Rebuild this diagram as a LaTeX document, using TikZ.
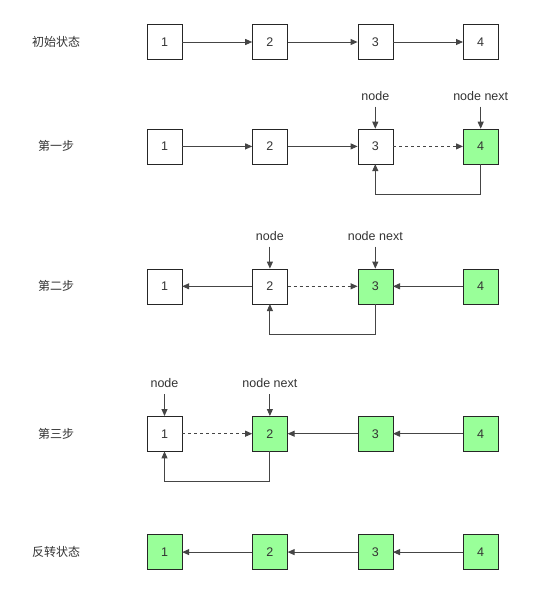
\documentclass[tikz,border=0pt]{standalone}
\usepackage{fontspec}
\setmainfont{Liberation Sans}
\newfontfamily\cjk{Noto Sans CJK SC}
\usetikzlibrary{positioning,arrows.meta}
\definecolor{donegreen}{HTML}{99FF99}
\definecolor{linegray}{HTML}{454545}
\definecolor{textgray}{HTML}{333333}

\begin{document}
\begin{tikzpicture}[
  x=1pt,y=1pt,
  node distance=70pt,
  box/.style={draw=black!85,fill=white,minimum size=35pt,inner sep=0pt,text=textgray,font=\fontsize{12.5}{14}\selectfont},
  done/.style={box,fill=donegreen},
  caption/.style={text=textgray,font=\cjk\fontsize{12}{14}\selectfont},
  pointer/.style={text=textgray,font=\fontsize{12.5}{14}\selectfont,inner xsep=1pt,inner ysep=6pt},
  link/.style={draw=linegray,line width=0.9pt,-{Triangle[length=7pt,width=6pt]}},
  every edge/.style={link},
  nextlink/.style={dash pattern=on 3pt off 3pt},
]
  \useasboundingbox (0,0) rectangle (534,-592);

  % Initial state
  \node[box] (i1) at (164.5,-42) {1};
  \node[box,right=of i1] (i2) {2};
  \node[box,right=of i2] (i3) {3};
  \node[box,right=of i3] (i4) {4};
  \node[caption] at ([xshift=-108.5pt]i1.center) {初始状态};
  \path (i1) edge (i2);
  \path (i2) edge (i3);
  \path (i3) edge (i4);

  % Step one
  \node[box,below=69pt of i1] (a1) {1};
  \node[box,right=of a1] (a2) {2};
  \node[box,right=of a2] (a3) {3};
  \node[done,right=of a3] (a4) {4};
  \node[caption] at ([xshift=-108.5pt]a1.center) {第一步};
  \node[pointer,above=22pt of a3] (a-node) {node};
  \node[pointer,above=22pt of a4] (a-next) {node next};
  \path (a1) edge (a2);
  \path (a2) edge (a3);
  \path (a3) edge[nextlink] (a4);
  \path (a-node) edge (a3);
  \path (a-next) edge (a4);
  \draw[link] (a4.south) -- ++(0,-30) -| (a3.south);

  % Step two
  \node[box,below=104.5pt of a1] (b1) {1};
  \node[box,right=of b1] (b2) {2};
  \node[done,right=of b2] (b3) {3};
  \node[done,right=of b3] (b4) {4};
  \node[caption] at ([xshift=-108.5pt]b1.center) {第二步};
  \node[pointer,above=22pt of b2] (b-node) {node};
  \node[pointer,above=22pt of b3] (b-next) {node next};
  \path (b2) edge (b1);
  \path (b2) edge[nextlink] (b3);
  \path (b4) edge (b3);
  \path (b-node) edge (b2);
  \path (b-next) edge (b3);
  \draw[link] (b3.south) -- ++(0,-30) -| (b2.south);

  % Step three
  \node[box,below=112pt of b1] (c1) {1};
  \node[done,right=of c1] (c2) {2};
  \node[done,right=of c2] (c3) {3};
  \node[done,right=of c3] (c4) {4};
  \node[caption] at ([xshift=-108.5pt]c1.center) {第三步};
  \node[pointer,above=22pt of c1] (c-node) {node};
  \node[pointer,above=22pt of c2] (c-next) {node next};
  \path (c1) edge[nextlink] (c2);
  \path (c3) edge (c2);
  \path (c4) edge (c3);
  \path (c-node) edge (c1);
  \path (c-next) edge (c2);
  \draw[link] (c2.south) -- ++(0,-30) -| (c1.south);

  % Reversed state
  \node[done,below=83pt of c1] (r1) {1};
  \node[done,right=of r1] (r2) {2};
  \node[done,right=of r2] (r3) {3};
  \node[done,right=of r3] (r4) {4};
  \node[caption] at ([xshift=-108.5pt]r1.center) {反转状态};
  \path (r2) edge (r1);
  \path (r3) edge (r2);
  \path (r4) edge (r3);
\end{tikzpicture}
\end{document}
